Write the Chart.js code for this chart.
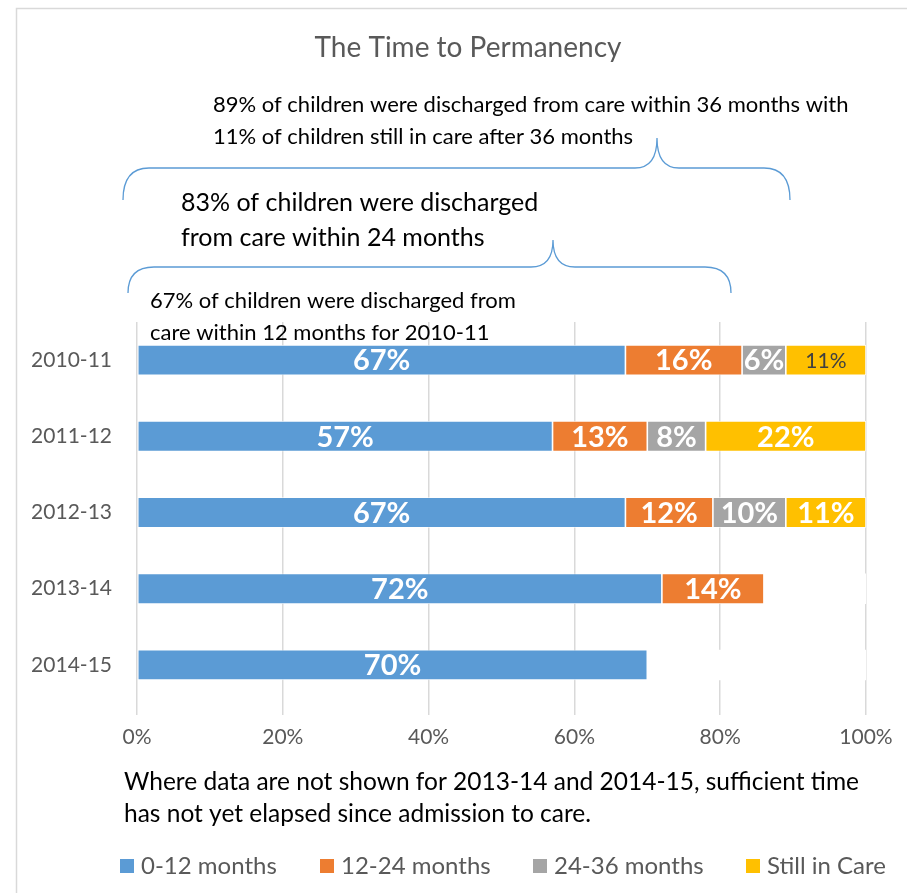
<!DOCTYPE html>
<html>
<head>
<meta charset="utf-8">
<script src="https://cdn.jsdelivr.net/npm/chart.js@4.4.1/dist/chart.umd.min.js"></script>
<style>
  html, body { margin: 0; padding: 0; background: #fff; }
</style>
</head>
<body>
<canvas id="chart" width="907" height="893"></canvas>
<script>
// data
const years = ["2010-11", "2011-12", "2012-13", "2013-14", "2014-15"];
const within12 = [67, 57, 67, 72, 70];
const within24 = [16, 13, 12, 14, null];
const within36 = [6, 8, 10, null, null];
const stillInCare = [11, 22, 11, null, null];
const notYetElapsed = [null, null, null, 14, 30]; // white filler up to 100%
const xTicks = [0, 20, 40, 60, 80, 100];
const seriesNames = ["0-12 months", "12-24 months", "24-36 months", "Still in Care"];
const seriesColors = ["#5B9BD5", "#ED7D31", "#A5A5A5", "#FFC000"];

const FONT = "Lato, 'Open Sans', sans-serif";
const GREY_TXT = "#595959";

function drawBrace(ctx, x1, x2, cx, yLine, yEnd, yCusp) {
  const r = 26, rc = 22;
  ctx.beginPath();
  ctx.moveTo(x1, yEnd);
  ctx.quadraticCurveTo(x1, yLine, x1 + r, yLine);
  ctx.lineTo(cx - rc, yLine);
  ctx.quadraticCurveTo(cx, yLine, cx, yCusp);
  ctx.quadraticCurveTo(cx, yLine, cx + rc, yLine);
  ctx.lineTo(x2 - r, yLine);
  ctx.quadraticCurveTo(x2, yLine, x2, yEnd);
  ctx.stroke();
}

const decorPlugin = {
  id: "decor",
  afterDraw(chart) {
    const ctx = chart.ctx;
    ctx.save();
    // outer frame
    ctx.strokeStyle = "#d9d9d9";
    ctx.lineWidth = 1.5;
    ctx.strokeRect(16.5, 8.5, 1000, 1000);

    // title
    ctx.fillStyle = GREY_TXT;
    ctx.textAlign = "center";
    ctx.textBaseline = "middle";
    ctx.font = "28px " + FONT;
    ctx.fillText("The Time to Permanency", 468, 48);

    // annotations
    ctx.fillStyle = "#000";
    ctx.textAlign = "left";
    ctx.font = "22px " + FONT;
    ctx.fillText("89% of children were discharged from care within 36 months with", 213, 105);
    ctx.fillText("11% of children still in care after 36 months", 213, 137);
    ctx.font = "25px " + FONT;
    ctx.fillText("83% of children were discharged", 181, 203);
    ctx.fillText("from care within 24 months", 181, 238);
    ctx.font = "22px " + FONT;
    ctx.fillText("67% of children were discharged from", 150, 301);
    ctx.fillText("care within 12 months for 2010-11", 150, 333);

    ctx.strokeStyle = "#5B9BD5";
    ctx.lineWidth = 1.3;
    drawBrace(ctx, 123, 790, 657, 168, 200, 138);
    drawBrace(ctx, 128, 731, 553, 267, 293, 240);

    // note
    ctx.font = "24.5px " + FONT;
    ctx.fillText("Where data are not shown for 2013-14 and 2014-15, sufficient time", 124, 782);
    ctx.fillText("has not yet elapsed since admission to care.", 124, 814);

    // legend
    const legendX = [120, 320, 533, 746];
    ctx.font = "24px " + FONT;
    seriesNames.forEach((name, i) => {
      ctx.fillStyle = seriesColors[i];
      ctx.fillRect(legendX[i], 859, 14, 14);
      ctx.fillStyle = GREY_TXT;
      ctx.fillText(name, legendX[i] + 21, 866);
    });
    ctx.restore();
  }
};

const labelPlugin = {
  id: "barLabels",
  afterDatasetsDraw(chart) {
    const ctx = chart.ctx;
    ctx.save();
    ctx.textAlign = "center";
    ctx.textBaseline = "middle";
    for (let d = 0; d < 4; d++) {
      const meta = chart.getDatasetMeta(d);
      meta.data.forEach((bar, i) => {
        const v = chart.data.datasets[d].data[i];
        if (v == null) return;
        const cx = (bar.x + bar.base) / 2;
        if (d === 3 && i === 0) {
          ctx.fillStyle = "#404040";
          ctx.font = "21px " + FONT;
        } else {
          ctx.fillStyle = "#fff";
          ctx.font = "bold 29px " + FONT;
        }
        ctx.fillText(v + "%", cx, bar.y + 1);
      });
    }
    ctx.restore();
  }
};

const datasets = [within12, within24, within36, stillInCare].map((arr, i) => ({
  label: seriesNames[i],
  data: arr,
  backgroundColor: seriesColors[i],
  borderColor: "#fff",
  borderWidth: 0.8,
  borderSkipped: false
}));
datasets.push({
  label: "not elapsed",
  data: notYetElapsed,
  backgroundColor: "#fff",
  borderWidth: 0
});

new Chart(document.getElementById("chart"), {
  type: "bar",
  data: { labels: years, datasets: datasets },
  options: {
    responsive: false,
    animation: false,
    indexAxis: "y",
    layout: { padding: { left: 16, right: 41, top: 322, bottom: 140 } },
    datasets: { bar: { barPercentage: 0.4, categoryPercentage: 1 } },
    plugins: {
      legend: { display: false },
      title: { display: false },
      tooltip: { enabled: false }
    },
    scales: {
      x: {
        stacked: true,
        min: 0,
        max: 100,
        afterBuildTicks: s => { s.ticks = xTicks.map(v => ({ value: v })); },
        afterFit: s => { s.height = 50; },
        ticks: {
          callback: v => v + "%",
          color: GREY_TXT,
          font: { family: FONT, size: 21 },
          padding: 10,
          maxRotation: 0
        },
        grid: { color: "#d9d9d9", lineWidth: 1.5, tickLength: 12 },
        border: { display: false }
      },
      y: {
        stacked: true,
        afterFit: s => { s.width = 121; },
        ticks: {
          color: GREY_TXT,
          font: { family: FONT, size: 21 },
          padding: 17
        },
        grid: { display: false },
        border: { display: false }
      }
    }
  },
  plugins: [labelPlugin, decorPlugin]
});
</script>
</body>
</html>
